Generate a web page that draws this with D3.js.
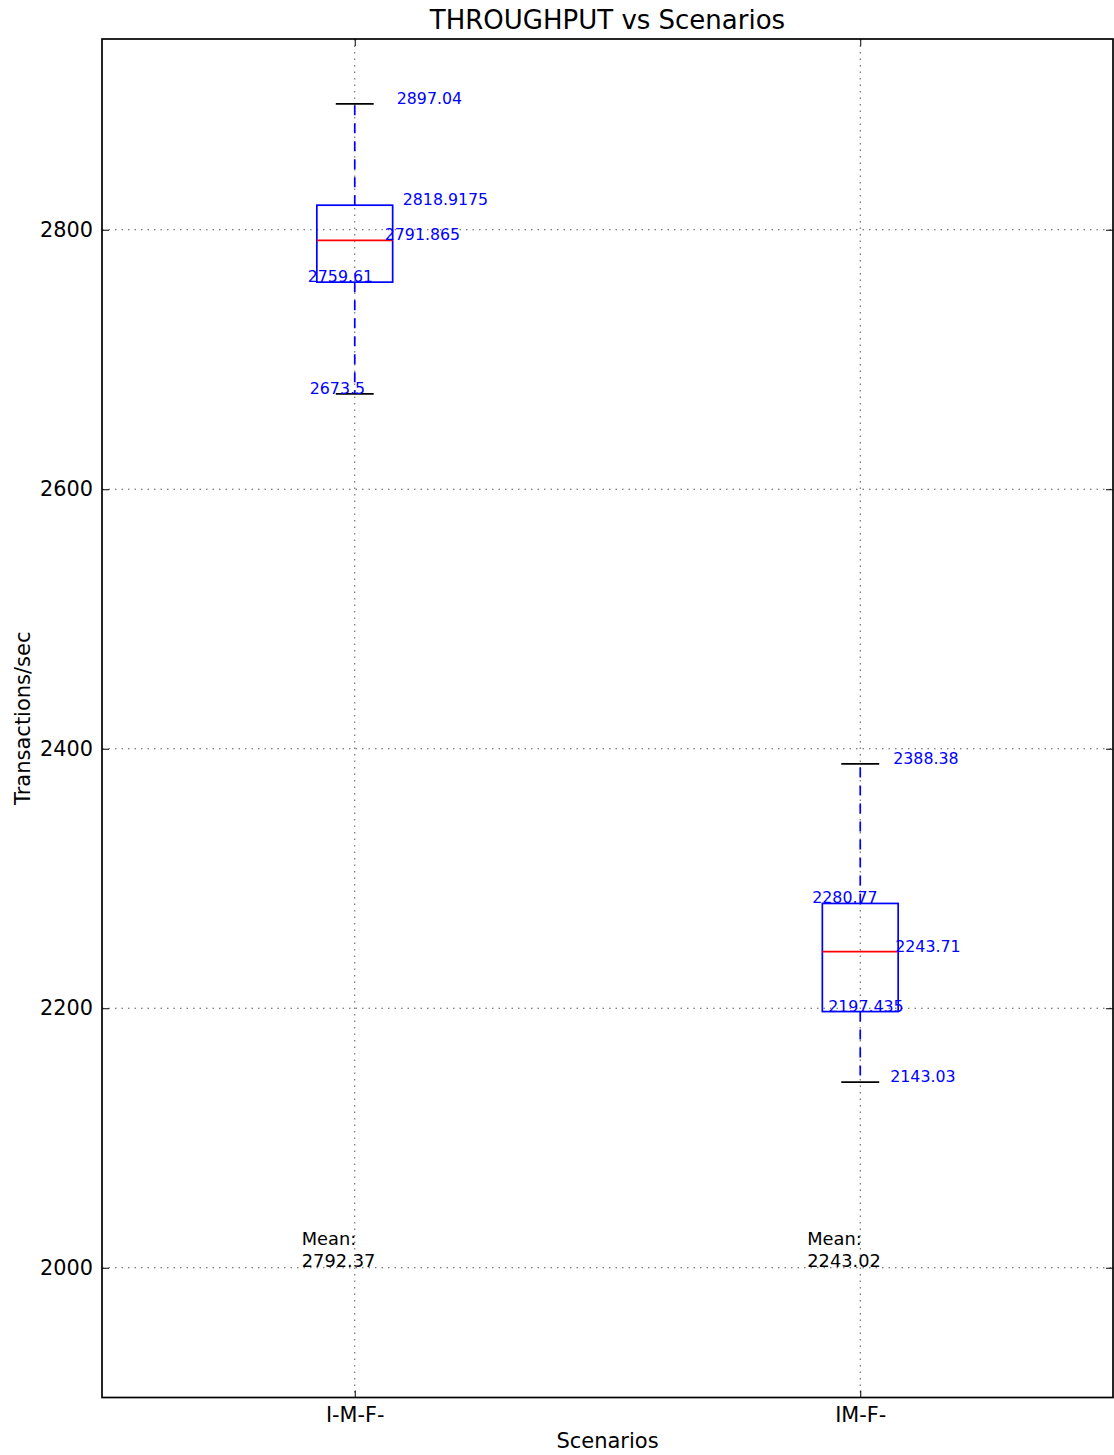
<!DOCTYPE html>
<html>
<head>
<meta charset="utf-8">
<script src="https://cdn.jsdelivr.net/npm/d3@7/dist/d3.min.js"></script>
<style>
  html, body { margin: 0; padding: 0; background: #fff; }
  svg { display: block; font-family: "DejaVu Sans", sans-serif; }
</style>
</head>
<body>
<svg id="chart" width="1114" height="1455"></svg>
<script>
// Scenario names and box statistics
const scenarios = ["I-M-F-", "IM-F-"];
const whiskerLow  = [2673.5, 2143.03];
const q1          = [2759.61, 2197.435];
const median      = [2791.865, 2243.71];
const q3          = [2818.9175, 2280.77];
const whiskerHigh = [2897.04, 2388.38];
const means       = [2792.37, 2243.02];

const yTicks = [2000, 2200, 2400, 2600, 2800];
const yDomain = [1900, 2947];

const title = "THROUGHPUT vs Scenarios";
const xLabel = "Scenarios";
const yLabel = "Transactions/sec";

// Horizontal offsets (px) of the value annotations from the box centre
const labelDx = [
  { lo: -45, q1: -47, med: 30, q3: 48, hi: 42 },
  { lo: 30,  q1: -32, med: 35, q3: -48, hi: 33 }
];

const svg = d3.select("#chart");
const plot = { left: 102, right: 1113, top: 39, bottom: 1397.5 };

const x = d3.scaleLinear().domain([0.5, 2.5]).range([plot.left, plot.right]);
const y = d3.scaleLinear().domain(yDomain).range([plot.bottom, plot.top]);

const boxHalf = x(1.075) - x(1);     // box width 0.15 in category units
const capHalf = x(1.0375) - x(1);

const boxes = scenarios.map((name, i) => ({
  name, pos: i + 1,
  lo: whiskerLow[i], q1: q1[i], med: median[i], q3: q3[i], hi: whiskerHigh[i],
  mean: means[i], dx: labelDx[i]
}));

// Grid lines
const grid = svg.append("g");
grid.selectAll("line.gy").data(yTicks).join("line")
  .attr("x1", plot.left).attr("x2", plot.right)
  .attr("y1", d => y(d)).attr("y2", d => y(d))
  .attr("stroke", "#444").attr("stroke-width", 0.9)
  .attr("stroke-dasharray", "1.5,5");
grid.selectAll("line.gx").data(boxes).join("line")
  .attr("x1", d => x(d.pos)).attr("x2", d => x(d.pos))
  .attr("y1", plot.top).attr("y2", plot.bottom)
  .attr("stroke", "#444").attr("stroke-width", 0.9)
  .attr("stroke-dasharray", "1.5,5");

// Axes with inward ticks
const leftAxis = d3.axisLeft(y).tickValues(yTicks).tickSizeInner(-7).tickSizeOuter(0)
  .tickPadding(9).tickFormat(d3.format("d"));
const rightAxis = d3.axisRight(y).tickValues(yTicks).tickSizeInner(-7).tickSizeOuter(0).tickFormat("");
const bottomAxis = d3.axisBottom(x).tickValues([1, 2]).tickSizeInner(-7).tickSizeOuter(0)
  .tickPadding(10).tickFormat(d => scenarios[d - 1]);
const topAxis = d3.axisTop(x).tickValues([1, 2]).tickSizeInner(-7).tickSizeOuter(0).tickFormat("");

function styleAxis(g) {
  g.select(".domain").remove();
  g.selectAll(".tick line").attr("stroke", "#000").attr("stroke-width", 1);
  g.selectAll(".tick text").attr("fill", "#000")
    .style("font-family", "DejaVu Sans").style("font-size", "20.8px");
}
svg.append("g").attr("transform", `translate(${plot.left},0)`).call(leftAxis).call(styleAxis);
svg.append("g").attr("transform", `translate(${plot.right},0)`).call(rightAxis).call(styleAxis);
svg.append("g").attr("transform", `translate(0,${plot.bottom})`).call(bottomAxis).call(styleAxis);
svg.append("g").attr("transform", `translate(0,${plot.top})`).call(topAxis).call(styleAxis);

// Boxes
const bx = svg.append("g").selectAll("g").data(boxes).join("g");

// Whiskers
bx.append("line")
  .attr("x1", d => x(d.pos)).attr("x2", d => x(d.pos))
  .attr("y1", d => y(d.q3)).attr("y2", d => y(d.hi))
  .attr("stroke", "#0000ff").attr("stroke-width", 1.7).attr("stroke-dasharray", "10,8");
bx.append("line")
  .attr("x1", d => x(d.pos)).attr("x2", d => x(d.pos))
  .attr("y1", d => y(d.q1)).attr("y2", d => y(d.lo))
  .attr("stroke", "#0000ff").attr("stroke-width", 1.7).attr("stroke-dasharray", "10,8");

// Caps
["lo", "hi"].forEach(k => {
  bx.append("line")
    .attr("x1", d => x(d.pos) - capHalf).attr("x2", d => x(d.pos) + capHalf)
    .attr("y1", d => y(d[k])).attr("y2", d => y(d[k]))
    .attr("stroke", "#000").attr("stroke-width", 1.7);
});

// Box body
bx.append("rect")
  .attr("x", d => x(d.pos) - boxHalf)
  .attr("y", d => y(d.q3))
  .attr("width", boxHalf * 2)
  .attr("height", d => y(d.q1) - y(d.q3))
  .attr("fill", "none").attr("stroke", "#0000ff").attr("stroke-width", 1.7);

// Median
bx.append("line")
  .attr("x1", d => x(d.pos) - boxHalf).attr("x2", d => x(d.pos) + boxHalf)
  .attr("y1", d => y(d.med)).attr("y2", d => y(d.med))
  .attr("stroke", "#ff0000").attr("stroke-width", 1.7);

// Value annotations
["lo", "q1", "med", "q3", "hi"].forEach(k => {
  bx.append("text")
    .attr("x", d => x(d.pos) + d.dx[k])
    .attr("y", d => y(d[k]))
    .attr("fill", "#0000ff")
    .style("font-size", "15.8px")
    .text(d => String(d[k]));
});

// Mean annotations
const meanText = bx.append("text")
  .attr("x", d => x(d.pos) - 53)
  .attr("y", y(2000) - 1)
  .attr("fill", "#000")
  .style("font-size", "17.8px");
meanText.append("tspan").attr("x", d => x(d.pos) - 53).attr("dy", "-1.22em").text("Mean:");
meanText.append("tspan").attr("x", d => x(d.pos) - 53).attr("dy", "1.22em").text(d => d.mean.toFixed(2));

// Frame
svg.append("rect")
  .attr("x", plot.left).attr("y", plot.top)
  .attr("width", plot.right - plot.left).attr("height", plot.bottom - plot.top)
  .attr("fill", "none").attr("stroke", "#000").attr("stroke-width", 1.7);

// Title and axis labels
svg.append("text")
  .attr("x", (plot.left + plot.right) / 2).attr("y", 29)
  .attr("text-anchor", "middle").style("font-size", "26px").attr("fill", "#000")
  .text(title);
svg.append("text")
  .attr("x", (plot.left + plot.right) / 2).attr("y", 1448)
  .attr("text-anchor", "middle").style("font-size", "21px").attr("fill", "#000")
  .text(xLabel);
svg.append("text")
  .attr("transform", `translate(30,${(plot.top + plot.bottom) / 2}) rotate(-90)`)
  .attr("text-anchor", "middle").style("font-size", "21px").attr("fill", "#000")
  .text(yLabel);
</script>
</body>
</html>
